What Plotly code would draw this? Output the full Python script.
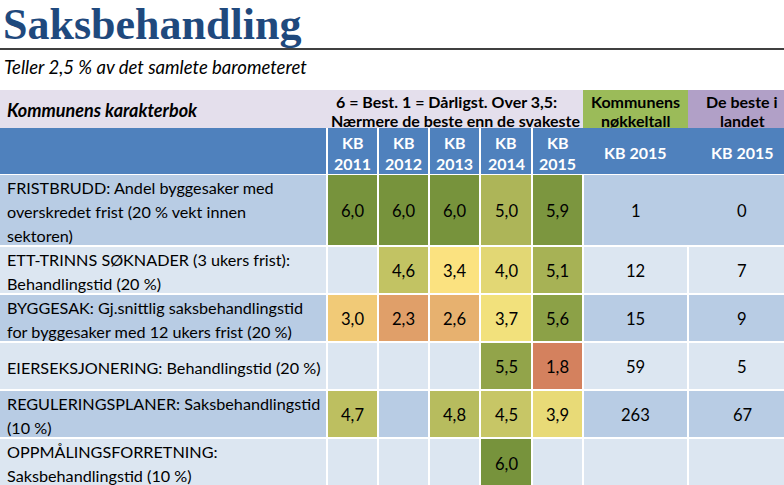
import math
import plotly.graph_objects as go

# ---------------- data ----------------
title = "Saksbehandling"
subtitle = "Teller 2,5 % av det samlete barometeret"
header_left = "Kommunens karakterbok"
header_scale = ["6 = Best. 1 = Dårligst. Over 3,5:", "Nærmere de beste enn de svakeste"]
header_kommune = ["Kommunens", "nøkkeltall"]
header_beste = ["De beste i", "landet"]
years = ["2011", "2012", "2013", "2014", "2015"]
right_cols = ["KB 2015", "KB 2015"]

row_labels = [
    ["FRISTBRUDD: Andel byggesaker med", "overskredet frist (20 % vekt innen", "sektoren)"],
    ["ETT-TRINNS SØKNADER (3 ukers frist):", "Behandlingstid (20 %)"],
    ["BYGGESAK: Gj.snittlig saksbehandlingstid", "for byggesaker med 12 ukers frist (20 %)"],
    ["EIERSEKSJONERING: Behandlingstid (20 %)"],
    ["REGULERINGSPLANER: Saksbehandlingstid", "(10 %)"],
    ["OPPMÅLINGSFORRETNING:", "Saksbehandlingstid (10 %)"],
]
kb2011 = [6.0, None, 3.0, None, 4.7, None]
kb2012 = [6.0, 4.6, 2.3, None, None, None]
kb2013 = [6.0, 3.4, 2.6, None, 4.8, None]
kb2014 = [5.0, 4.0, 3.7, 5.5, 4.5, 6.0]
kb2015 = [5.9, 5.1, 5.6, 1.8, 3.9, None]
kommune_2015 = [1, 12, 15, 59, 263, None]
beste_2015 = [0, 7, 9, 5, 67, None]

# ---------------- layout geometry (pixels) ----------------
W, H = 784, 485
col_edges = [-2, 327, 378, 429, 480, 532, 583, 688, 796]
row_edges = [174, 246, 294, 342, 390, 438, 490]
hdr1_top, hdr2_top = 90, 128
line_h = 24

FONT = "Lato"
C_DARK = "#B8CCE4"
C_LIGHT = "#DCE6F1"
C_BLUE = "#4F81BD"
C_LAV = "#E4DFEC"
C_GREEN = "#9BBB59"
C_PURP = "#B1A0C7"

year_vals = [kb2011, kb2012, kb2013, kb2014, kb2015]
n_rows = len(row_labels)
n_cols = len(col_edges) - 1

def nz(v):
    return float("nan") if v is None else v

# background grid (alternating row colour)
z_bg = [[i % 2 for _ in range(n_cols)] for i in range(n_rows)]
# score grid (only year columns)
z_val = []
for i in range(n_rows):
    row = [float("nan")]
    for yv in year_vals:
        row.append(nz(yv[i]))
    row += [float("nan"), float("nan")]
    z_val.append(row)

fig = go.Figure()
fig.add_trace(go.Heatmap(
    z=z_bg, x=col_edges, y=row_edges, xgap=2, ygap=2,
    colorscale=[[0, C_DARK], [1, C_LIGHT]], zmin=0, zmax=1,
    showscale=False, hoverinfo="skip"))
fig.add_trace(go.Heatmap(
    z=z_val, x=col_edges, y=row_edges, xgap=2, ygap=2,
    colorscale=[[0, "#C0504D"], [0.5, "#FDE882"], [1, "#77933C"]], zmin=1, zmax=6,
    showscale=False, hoverinfo="skip"))

shapes = []
# header backgrounds
shapes.append(dict(type="rect", x0=0, x1=col_edges[6], y0=hdr1_top, y1=hdr2_top,
                   fillcolor=C_LAV, line_width=0, layer="below"))
shapes.append(dict(type="rect", x0=col_edges[6], x1=col_edges[7], y0=hdr1_top, y1=hdr2_top,
                   fillcolor=C_GREEN, line_width=0, layer="below"))
shapes.append(dict(type="rect", x0=col_edges[7], x1=col_edges[8], y0=hdr1_top, y1=hdr2_top,
                   fillcolor=C_PURP, line_width=0, layer="below"))
shapes.append(dict(type="rect", x0=0, x1=col_edges[8], y0=hdr2_top, y1=row_edges[0],
                   fillcolor=C_BLUE, line_width=0, layer="below"))
for xe in col_edges[1:6]:
    shapes.append(dict(type="line", x0=xe, x1=xe, y0=hdr2_top, y1=row_edges[0],
                       line=dict(color="white", width=2)))
# first row: the two key-figure cells are merged (no separator)
shapes.append(dict(type="rect", x0=col_edges[7] - 2, x1=col_edges[7] + 2,
                   y0=row_edges[0] + 1, y1=row_edges[1] - 1,
                   fillcolor=C_DARK, line_width=0, layer="above"))
# rule under title
shapes.append(dict(type="line", x0=0, x1=W, y0=49, y1=49, line=dict(color="black", width=1.5)))

ann = []
def add(text, x, y, size=16, color="black", xanchor="center", bold=False, italic=False, family=FONT):
    t = text
    if bold:
        t = "<b>" + t + "</b>"
    if italic:
        t = "<i>" + t + "</i>"
    ann.append(dict(text=t, x=x, y=y, xref="x", yref="y", showarrow=False,
                    xanchor=xanchor, yanchor="middle",
                    font=dict(family=family, size=size, color=color)))

add(title, 0.5, 24, size=44, color="#1F497D", xanchor="left", bold=True, family="Liberation Serif")
add(subtitle, 2, 67, size=18.5, xanchor="left", italic=True)
add(header_left, 5, 110, size=18, xanchor="left", bold=True, italic=True)
add(header_scale[0], 446, 101, size=16, bold=True)
add(header_scale[1], 455, 120, size=16, bold=True)
kx = (col_edges[6] + col_edges[7]) / 2
bx = 742
add(header_kommune[0], kx, 101, size=16, bold=True)
add(header_kommune[1], kx, 120, size=16, bold=True)
add(header_beste[0], bx, 101, size=16, bold=True)
add(header_beste[1], bx, 120, size=16, bold=True)

for j, yr in enumerate(years):
    cx = (col_edges[j + 1] + col_edges[j + 2]) / 2
    add("KB", cx, 142, size=16, color="white", bold=True)
    add(yr, cx, 163, size=16, color="white", bold=True)
add(right_cols[0], kx, 152, size=16, color="white", bold=True)
add(right_cols[1], bx, 152, size=16, color="white", bold=True)

for i in range(n_rows):
    cy = (row_edges[i] + min(row_edges[i + 1], 487)) / 2 + 1
    lines = row_labels[i]
    n = len(lines)
    for k, ln in enumerate(lines):
        add(ln, 5, cy + (k - (n - 1) / 2) * line_h, size=16.2, xanchor="left")
    for j, yv in enumerate(year_vals):
        v = yv[i]
        if v is not None:
            cx = (col_edges[j + 1] + col_edges[j + 2]) / 2
            add(f"{v:.1f}".replace(".", ","), cx, cy, size=16.6)
    if kommune_2015[i] is not None:
        add(str(kommune_2015[i]), kx, cy, size=16.6)
    if beste_2015[i] is not None:
        add(str(beste_2015[i]), bx, cy, size=16.6)

fig.update_layout(
    width=W, height=H, margin=dict(l=0, r=0, t=0, b=0),
    paper_bgcolor="white", plot_bgcolor="white",
    shapes=shapes, annotations=ann, showlegend=False,
    xaxis=dict(range=[0, W], visible=False, fixedrange=True),
    yaxis=dict(range=[H, 0], visible=False, fixedrange=True),
)
fig.write_html("out.html", config={"displayModeBar": False},
               post_script="document.body.style.margin='0';document.body.style.overflow='hidden';")
